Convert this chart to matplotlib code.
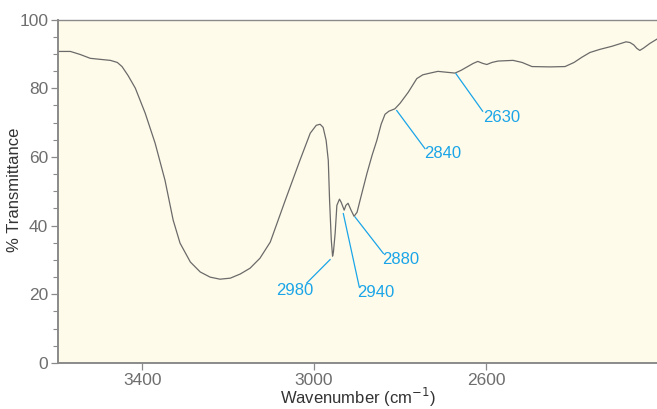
import numpy as np
import matplotlib
matplotlib.use("Agg")
import matplotlib.pyplot as plt
from matplotlib.ticker import MultipleLocator

plt.rcParams['font.family'] = ['Liberation Sans', 'DejaVu Sans']

# spectrum
wavenumber = [3595, 3567, 3544, 3521, 3498, 3474, 3458, 3447, 3433, 3416,
              3393, 3370, 3347, 3328, 3312, 3288, 3265, 3242, 3219, 3195,
              3172, 3149, 3126, 3102, 3067, 3033, 3009, 2995, 2986, 2979,
              2972, 2967, 2964, 2960, 2957, 2955, 2951, 2947, 2941, 2937,
              2930, 2926, 2921, 2914, 2907, 2900, 2893, 2877, 2865, 2854,
              2844, 2835, 2826, 2812, 2800, 2781, 2761, 2747, 2730, 2712,
              2688, 2672, 2658, 2644, 2630, 2619, 2607, 2598, 2586, 2572,
              2537, 2516, 2493, 2451, 2416, 2395, 2377, 2358, 2335, 2307,
              2274, 2265, 2256, 2249, 2242, 2233, 2219, 2202]
transmittance = [90.7, 90.7, 89.8, 88.7, 88.4, 88.1, 87.5, 86.3, 83.7, 80.0,
                 72.7, 64.0, 53.2, 41.6, 34.9, 29.4, 26.5, 25.0, 24.4, 24.7,
                 25.9, 27.6, 30.5, 35.2, 47.4, 59.0, 66.9, 69.2, 69.5, 68.6,
                 64.8, 59.0, 47.4, 35.8, 31.1, 32.3, 37.8, 45.9, 47.7, 46.8,
                 44.5, 45.9, 46.5, 44.5, 42.7, 43.9, 47.4, 55.2, 60.5, 64.8,
                 69.5, 72.4, 73.3, 74.0, 75.6, 78.8, 82.8, 83.9, 84.4, 84.9,
                 84.6, 84.4, 85.2, 86.2, 87.2, 87.8, 87.2, 86.9, 87.5, 87.9,
                 88.1, 87.5, 86.3, 86.2, 86.3, 87.5, 89.0, 90.4, 91.3, 92.2,
                 93.5, 93.3, 92.6, 91.6, 91.0, 91.7, 93.0, 94.3]

# peak labels: text, point on curve, start of leader line, text centre
peak_labels = ['2980', '2940', '2880', '2840', '2630']
peak_xy = [(2962.8, 30.1), (2932, 43.5), (2904.7, 42.5), (2807.7, 73.5), (2669.8, 84.2)]
leader_start = [(3017, 23.3), (2895, 22.2), (2838.8, 31.9), (2742, 62.4), (2607.7, 73.3)]
text_pos = [(3044, 21.0), (2856, 20.4), (2797.7, 30.1), (2701.6, 60.9), (2563.5, 71.4)]

blue = '#1aa5e8'
grey = '#8a8a8a'

fig = plt.figure(figsize=(6.57, 4.09), dpi=100)
ax = fig.add_axes([58/657, 1 - 363/409, 1 - 58/657, (363 - 19.5)/409])
ax.set_facecolor('#fffbea')

ax.plot(wavenumber, transmittance, color='#6a6a6a', lw=0.9)

for lab, p, s, t in zip(peak_labels, peak_xy, leader_start, text_pos):
    ax.plot([s[0], p[0]], [s[1], p[1]], color=blue, lw=0.9)
    ax.text(t[0], t[1], lab, color=blue, fontsize=12, ha='center', va='center')

ax.set_xlim(3596, 2202)
ax.set_ylim(0, 100)
ax.set_xticks([3400, 3000, 2600])
ax.yaxis.set_major_locator(MultipleLocator(20))
ax.yaxis.set_minor_locator(MultipleLocator(5))

for side in ['left', 'bottom', 'top']:
    ax.spines[side].set_color(grey)
    ax.spines[side].set_linewidth(1.4)
ax.spines['top'].set_linewidth(1.0)
ax.spines['right'].set_visible(False)

ax.tick_params(axis='both', which='major', direction='out', length=5, width=0.9,
               color=grey, labelcolor='#6e6e6e', labelsize=12.5, pad=2)
ax.tick_params(axis='y', which='minor', direction='out', length=3.5, width=0.8, color=grey)

ax.set_xlabel('Wavenumber (cm$^{-1}$)', fontsize=12, color='#333333')
ax.set_ylabel('% Transmittance', fontsize=12, color='#333333')
ax.xaxis.set_label_coords(0.5, -0.068)
ax.yaxis.set_label_coords(-0.060, 0.504)

fig.savefig('out.png', dpi=100)
